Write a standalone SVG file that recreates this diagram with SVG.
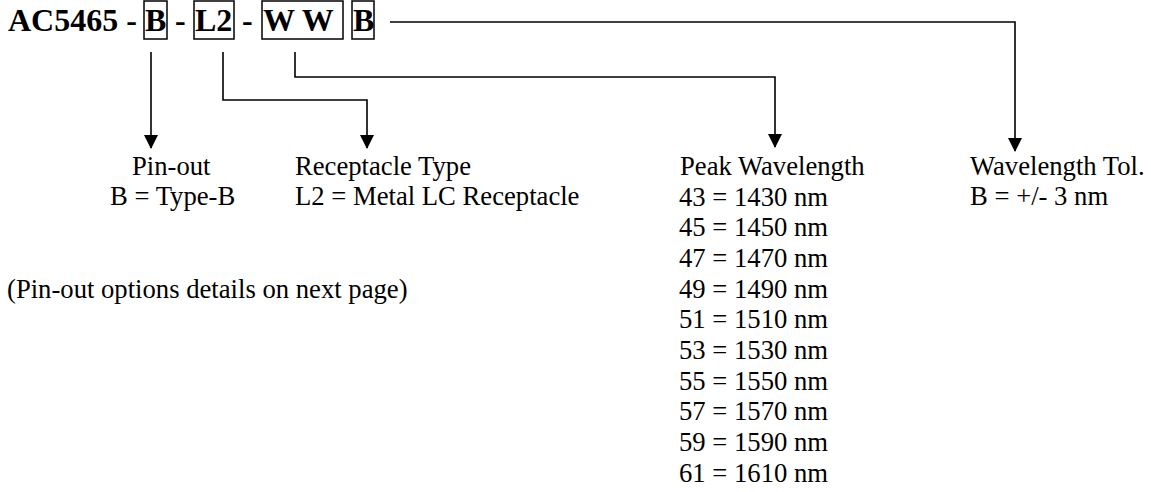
<svg xmlns="http://www.w3.org/2000/svg" width="1151" height="492" viewBox="0 0 1151 492">
  <style>
    .title { font-family: "Liberation Serif", "Times New Roman", serif; font-weight: bold; font-size: 32px; fill: #000; }
    .label { font-family: "Liberation Serif", "Times New Roman", serif; font-size: 26.67px; fill: #000; }
    .box { fill: none; stroke: #000; stroke-width: 1.5; }
    .conn { fill: none; stroke: #000; stroke-width: 1.6; marker-end: url(#arrow); }
  </style>
  <defs>
    <marker id="arrow" viewBox="0 0 14 14" refX="13" refY="7" markerWidth="14" markerHeight="14" markerUnits="userSpaceOnUse" orient="auto">
      <path d="M0,0 L14,7 L0,14 z" fill="#000"/>
    </marker>
  </defs>
  <rect width="1151" height="492" fill="#fff"/>

  <!-- part number with boxed fields -->
  <g id="part-number">
    <text class="title" x="8" y="31">AC5465 -</text>
    <g id="field-pinout">
      <rect class="box" x="144" y="1" width="23" height="38"/>
      <text class="title" x="145" y="31">B</text>
    </g>
    <text class="title" x="175" y="31">-</text>
    <g id="field-receptacle">
      <rect class="box" x="194" y="1" width="40" height="38"/>
      <text class="title" x="195" y="31">L2</text>
    </g>
    <text class="title" x="242" y="31">-</text>
    <g id="field-wavelength">
      <rect class="box" x="262" y="1" width="81" height="38"/>
      <text class="title" x="263" y="31">W W</text>
    </g>
    <g id="field-tolerance">
      <rect class="box" x="352" y="1" width="22" height="38"/>
      <text class="title" x="353" y="31">B</text>
    </g>
  </g>

  <!-- leader lines from each field to its legend -->
  <g id="connectors">
    <path class="conn" d="M151,52 V148"/>
    <path class="conn" d="M223,52 V100 H367 V148"/>
    <path class="conn" d="M295,52 V77 H775 V147"/>
    <path class="conn" d="M390,22 H1015 V151"/>
  </g>

  <g id="legend-pinout">
    <text class="label" x="132" y="175">Pin-out</text>
    <text class="label" x="110" y="205">B = Type-B</text>
  </g>

  <g id="legend-receptacle">
    <text class="label" x="295" y="175">Receptacle Type</text>
    <text class="label" x="295" y="205">L2 = Metal LC Receptacle</text>
  </g>

  <g id="legend-wavelength">
    <text class="label" x="680" y="175">Peak Wavelength</text>
    <text class="label" x="679" y="205.7">43 = 1430 nm</text>
    <text class="label" x="679" y="236.3">45 = 1450 nm</text>
    <text class="label" x="679" y="267">47 = 1470 nm</text>
    <text class="label" x="679" y="297.7">49 = 1490 nm</text>
    <text class="label" x="679" y="328.3">51 = 1510 nm</text>
    <text class="label" x="679" y="359">53 = 1530 nm</text>
    <text class="label" x="679" y="389.7">55 = 1550 nm</text>
    <text class="label" x="679" y="420.3">57 = 1570 nm</text>
    <text class="label" x="679" y="451">59 = 1590 nm</text>
    <text class="label" x="679" y="481.7">61 = 1610 nm</text>
  </g>

  <g id="legend-tolerance">
    <text class="label" x="970" y="175">Wavelength Tol.</text>
    <text class="label" x="970" y="205">B = +/- 3 nm</text>
  </g>

  <g id="note">
    <text class="label" x="7" y="297.7">(Pin-out options details on next page)</text>
  </g>
</svg>
